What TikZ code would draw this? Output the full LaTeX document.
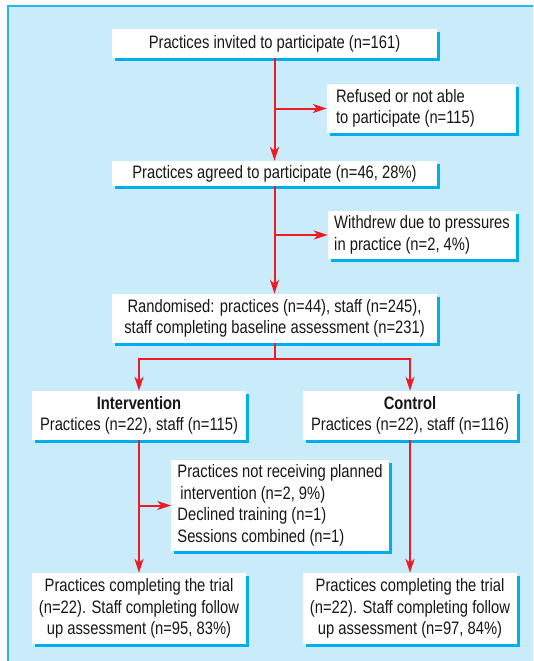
\documentclass[tikz,border=0pt]{standalone}
\usepackage{fontspec}
\setmainfont{Liberation Sans}[FakeStretch=0.82]
\usetikzlibrary{arrows.meta}
\usetikzlibrary{shadows}

\definecolor{panelblue}{RGB}{201,235,250}
\definecolor{panelline}{RGB}{40,180,238}
\definecolor{shadowblue}{RGB}{0,174,239}
\definecolor{flowred}{RGB}{237,28,36}
\definecolor{inktext}{RGB}{25,22,23}

\begin{document}
\begin{tikzpicture}[x=1pt, y=-1pt,
    box/.style={fill=white, text=inktext, inner xsep=6pt, inner ysep=0pt, align=center,
      font=\fontsize{18}{21.5}\selectfont,
      drop shadow={shadow xshift=3pt, shadow yshift=-3pt, fill=shadowblue, opacity=1}},
    sidebox/.style={box, align=flush left},
    flow/.style={draw=flowred, line width=2pt, -{Stealth[length=14pt, width=9pt, inset=4pt]}}]

    % background panel
    \useasboundingbox (0,0) rectangle (533,661);
    \fill[white] (0,0) rectangle (533,661);
    \clip (0,0) rectangle (533,661);
    \fill[panelblue] (8,6) rectangle (540,670);
    \draw[panelline, line width=1.5pt] (8,670) -- (8,6) -- (540,6);

    % boxes down the middle
    \node[box, minimum width=325pt, minimum height=29pt] (invite) at (274.5,43.5) {Practices invited to participate (n=161)};
    \node[box, minimum width=325pt, minimum height=25pt] (agree) at (274.5,173.5) {Practices agreed to participate (n=46, 28\%)};
    \node[box, minimum width=325pt, minimum height=49pt] (rand) at (274.5,318.5) {Randomised: practices (n=44), staff (n=245),\\staff completing baseline assessment (n=231)};

    % boxes to the side
    \node[sidebox, text width=171pt, inner xsep=9pt, minimum height=49pt] (refuse) at (421.5,108.5) {Refused or not able\\to participate (n=115)};
    \node[sidebox, minimum width=188pt, minimum height=48pt] (withdrew) at (422,235) {Withdrew due to pressures\\in practice (n=2, 4\%)};
    \node[sidebox, minimum width=216pt, minimum height=91pt] (notrecv) at (280,505.5) {Practices not receiving planned\\\hspace*{3pt}intervention (n=2, 9\%)\\Declined training (n=1)\\Sessions combined (n=1)};

    % the two arms
    \node[box, minimum width=214pt, minimum height=49pt] (interv) at (139,415.5) {{\bfseries Intervention}\\Practices (n=22), staff (n=115)};
    \node[box, minimum width=214pt, minimum height=49pt] (ctrl) at (410,415.5) {{\bfseries Control}\\Practices (n=22), staff (n=116)};
    \node[box, minimum width=214pt, minimum height=71pt] (doneL) at (139,608.5) {Practices completing the trial\\(n=22). Staff completing follow\\up assessment (n=95, 83\%)};
    \node[box, minimum width=214pt, minimum height=71pt] (doneR) at (410,608.5) {Practices completing the trial\\(n=22). Staff completing follow\\up assessment (n=97, 84\%)};

    % arrows
    \draw[flow] (invite) -- (agree);
    \draw[flow] (invite.south |- refuse.west) -- (refuse.west);
    \draw[flow] (agree) -- (rand);
    \draw[flow] (agree.south |- withdrew.west) -- (withdrew.west);
    \coordinate (split) at (274.5,359);
    \draw[flow] (rand.south) -- (split) -| (interv.north);
    \draw[flow] (rand.south) -- (split) -| (ctrl.north);
    \draw[flow] (interv) -- (doneL);
    \draw[flow] (interv.south |- notrecv.west) -- (notrecv.west);
    \draw[flow] (ctrl) -- (doneR);

\end{tikzpicture}
\end{document}
